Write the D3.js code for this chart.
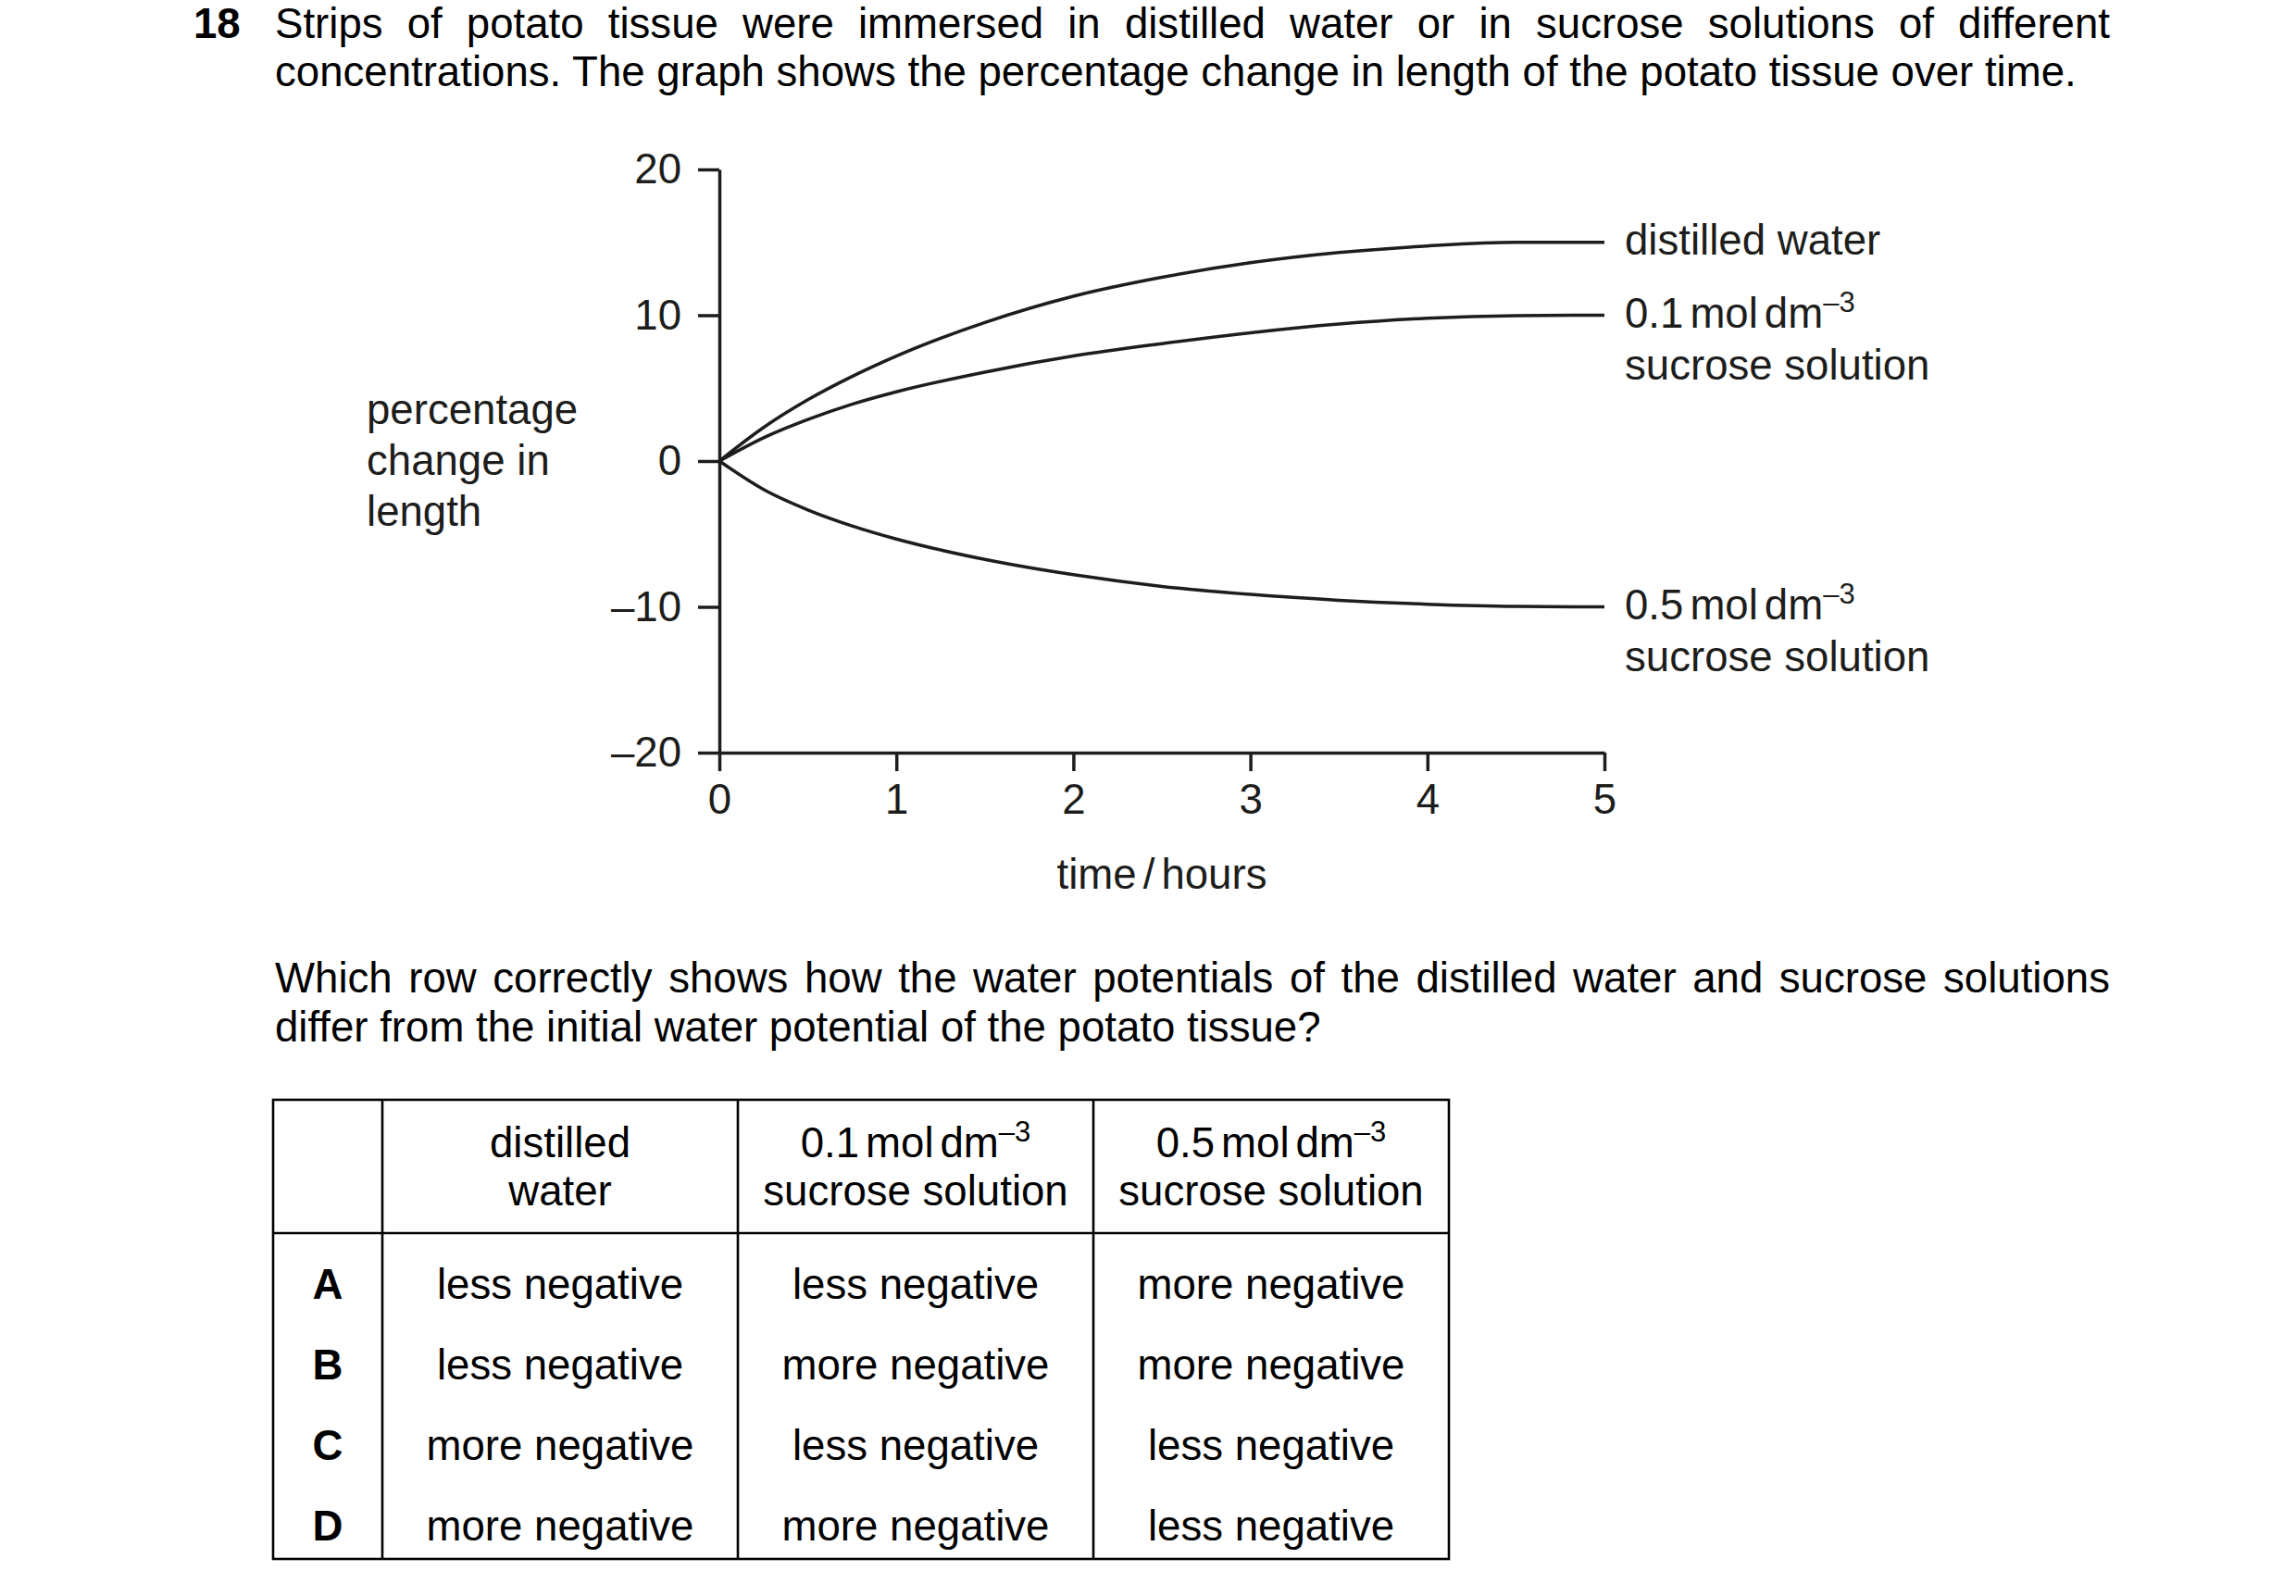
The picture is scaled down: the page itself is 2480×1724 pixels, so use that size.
<!DOCTYPE html>
<html>
<head>
<meta charset="utf-8">
<script src="https://cdn.jsdelivr.net/npm/d3@7"></script>
<style>
  body { margin: 0; background: #fff; }
  svg { display: block; }
  text { font-family: "Liberation Sans", Arial, sans-serif; }
</style>
</head>
<body>
<div id="chart"></div>
<script>
// time points (hours)
const times = [0, 0.25, 0.5, 0.75, 1, 1.5, 2, 2.5, 3, 3.5, 4, 4.5, 5];
// percentage change in length
const distilledWater = [0, 2.3, 4.2, 5.8, 7.2, 9.5, 11.3, 12.6, 13.6, 14.3, 14.75, 15.0, 15.0];
const sucrose01 = [0, 1.6, 2.85, 3.9, 4.75, 6.1, 7.2, 8.05, 8.8, 9.4, 9.8, 9.97, 10.0];
const sucrose05 = [0, -1.95, -3.35, -4.45, -5.35, -6.75, -7.8, -8.6, -9.15, -9.55, -9.82, -9.97, -10.0];

const xTicks = [0, 1, 2, 3, 4, 5];
const yTicks = [-20, -10, 0, 10, 20];

const seriesLabels = [
  ["distilled water"],
  ["0.1", "sucrose solution"],
  ["0.5", "sucrose solution"]
];

// table contents
const rowLetters = ["A", "B", "C", "D"];
const colDistilled = ["less negative", "less negative", "more negative", "more negative"];
const col01 = ["less negative", "more negative", "less negative", "more negative"];
const col05 = ["more negative", "more negative", "less negative", "less negative"];

const titleLine1 = "Strips of potato tissue were immersed in distilled water or in sucrose solutions of different";
const titleLine2 = "concentrations. The graph shows the percentage change in length of the potato tissue over time.";
const questionLine1 = "Which row correctly shows how the water potentials of the distilled water and sucrose solutions";
const questionLine2 = "differ from the initial water potential of the potato tissue?";

const W = 2480, H = 1724;
const FS = 45.6;
const ink = "#1d1d1b";

const svg = d3.select("#chart").append("svg")
    .attr("width", W)
    .attr("height", H)
    .attr("viewBox", `0 0 ${W} ${H}`);

svg.append("rect").attr("width", W).attr("height", H).attr("fill", "#fff");

// justified line: words spread between x0 and x1
function justifiedLine(words, x0, x1, y) {
    const g = svg.append("g");
    const nodes = words.map(w => g.append("text")
        .attr("y", y)
        .style("font-size", FS + "px")
        .attr("fill", "#000")
        .text(w));
    const widths = nodes.map(n => n.node().getComputedTextLength());
    const gap = (x1 - x0 - d3.sum(widths)) / (words.length - 1);
    let x = x0;
    nodes.forEach((n, i) => {
        n.attr("x", x);
        x += widths[i] + gap;
    });
}

function plainLine(str, x, y, anchor) {
    return svg.append("text")
        .attr("x", x)
        .attr("y", y)
        .attr("text-anchor", anchor || "start")
        .style("font-size", FS + "px")
        .attr("fill", "#000")
        .text(str);
}

// "0.1 mol dm-3" with superscript
function concLabel(x, y, value, anchor) {
    const t = svg.append("text")
        .attr("x", x)
        .attr("y", y)
        .attr("text-anchor", anchor || "start")
        .style("font-size", FS + "px")
        .attr("fill", ink);
    t.append("tspan").text(value);
    t.append("tspan").attr("dx", 7).text("mol");
    t.append("tspan").attr("dx", 7).text("dm");
    t.append("tspan").attr("dy", -17).style("font-size", "31px").text("\u20133");
    return t;
}

// Question header
svg.append("text")
    .attr("x", 209)
    .attr("y", 41)
    .style("font-size", FS + "px")
    .style("font-weight", "bold")
    .text("18");
justifiedLine(titleLine1.split(" "), 297, 2279, 41);
plainLine(titleLine2, 297, 93);

// Graph
const x = d3.scaleLinear().domain([0, 5]).range([777, 1733]);
const y = d3.scaleLinear().domain([-20, 20]).range([813, 183]);

const yAxis = svg.append("g")
    .attr("transform", `translate(${x(0)},0)`)
    .call(d3.axisLeft(y)
        .tickValues(yTicks)
        .tickSize(23)
        .tickSizeOuter(0)
        .tickPadding(18)
        .tickFormat(d => d < 0 ? "\u2013" + Math.abs(d) : d));

const xAxis = svg.append("g")
    .attr("transform", `translate(0,${y(-20)})`)
    .call(d3.axisBottom(x)
        .tickValues(xTicks)
        .tickSize(20)
        .tickSizeOuter(0)
        .tickPadding(14)
        .tickFormat(d3.format("d")));

[yAxis, xAxis].forEach(a => {
    a.selectAll("path, line").attr("stroke", ink).attr("stroke-width", 3.5);
    a.selectAll("text")
        .style("font-size", FS + "px")
        .style("font-family", '"Liberation Sans", Arial, sans-serif')
        .attr("fill", ink);
});

// y-axis title
["percentage", "change in", "length"].forEach((s, i) => {
    svg.append("text")
        .attr("x", 396)
        .attr("y", 458 + i * 55)
        .style("font-size", FS + "px")
        .attr("fill", ink)
        .text(s);
});

// x-axis title
const xt = svg.append("text")
    .attr("x", (x(0) + x(5)) / 2)
    .attr("y", 960)
    .attr("text-anchor", "middle")
    .style("font-size", FS + "px")
    .attr("fill", ink);
xt.append("tspan").text("time");
xt.append("tspan").attr("dx", 7).text("/");
xt.append("tspan").attr("dx", 7).text("hours");

// curves
const line = d3.line()
    .x((d, i) => x(times[i]))
    .y(d => y(d))
    .curve(d3.curveMonotoneX);

const series = [distilledWater, sucrose01, sucrose05];
svg.selectAll(".curve")
    .data(series)
    .enter()
    .append("path")
    .attr("class", "curve")
    .attr("d", line)
    .attr("fill", "none")
    .attr("stroke", ink)
    .attr("stroke-width", 3.5);

// curve labels
series.forEach((s, i) => {
    const ly = y(s[s.length - 1]) + 13;
    const lab = seriesLabels[i];
    if (lab.length === 1) {
        svg.append("text")
            .attr("x", 1755)
            .attr("y", ly)
            .style("font-size", FS + "px")
            .attr("fill", ink)
            .text(lab[0]);
    } else {
        concLabel(1755, ly, lab[0]);
        svg.append("text")
            .attr("x", 1755)
            .attr("y", ly + 56)
            .style("font-size", FS + "px")
            .attr("fill", ink)
            .text(lab[1]);
    }
});

// Question
justifiedLine(questionLine1.split(" "), 297, 2279, 1072);
plainLine(questionLine2, 297, 1125);

// Table
const colX = [295, 413, 797, 1181, 1565];
const tTop = 1188, tHead = 1332, tBot = 1684;
const tg = svg.append("g").attr("stroke", "#000").attr("stroke-width", 2.6);
tg.append("rect")
    .attr("x", colX[0]).attr("y", tTop)
    .attr("width", colX[4] - colX[0]).attr("height", tBot - tTop)
    .attr("fill", "none");
colX.slice(1, 4).forEach(cx => {
    tg.append("line").attr("x1", cx).attr("x2", cx).attr("y1", tTop).attr("y2", tBot);
});
tg.append("line").attr("x1", colX[0]).attr("x2", colX[4]).attr("y1", tHead).attr("y2", tHead);

const colMid = i => (colX[i] + colX[i + 1]) / 2;

plainLine("distilled", colMid(1), 1250, "middle");
plainLine("water", colMid(1), 1302, "middle");
concLabel(colMid(2), 1250, "0.1", "middle").attr("fill", "#000");
plainLine("sucrose solution", colMid(2), 1302, "middle");
concLabel(colMid(3), 1250, "0.5", "middle").attr("fill", "#000");
plainLine("sucrose solution", colMid(3), 1302, "middle");

const rowY = [1403, 1490, 1577, 1664];
rowLetters.forEach((r, i) => {
    plainLine(r, colMid(0), rowY[i], "middle").style("font-weight", "bold");
    plainLine(colDistilled[i], colMid(1), rowY[i], "middle");
    plainLine(col01[i], colMid(2), rowY[i], "middle");
    plainLine(col05[i], colMid(3), rowY[i], "middle");
});
</script>
</body>
</html>
